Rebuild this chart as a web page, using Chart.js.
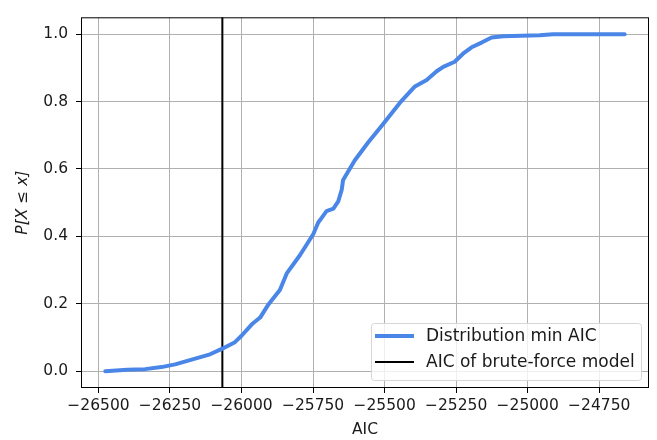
<!DOCTYPE html>
<html>
<head>
<meta charset="utf-8">
<script src="https://cdn.jsdelivr.net/npm/chart.js@4/dist/chart.umd.min.js"></script>
<style>
  html, body { margin: 0; padding: 0; background: #fff; }
  #wrap { width: 657px; height: 440px; }
</style>
</head>
<body>
<div id="wrap"><canvas id="chart" width="657" height="440"></canvas></div>
<script>
"use strict";

// ECDF of min AIC
const aicValues = [
  -26476, -26400, -26337, -26280, -26232, -26162, -26110, -26069, -26023, -26000,
  -25964, -25935, -25906, -25866, -25842, -25796, -25749, -25732, -25720, -25703,
  -25679, -25662, -25650, -25645, -25604, -25557, -25510, -25447, -25394, -25353,
  -25318, -25295, -25255, -25226, -25196, -25161, -25126, -25086, -24958, -24911,
  -24661,
];
const cdfValues = [
  0.0, 0.004, 0.006, 0.012, 0.02, 0.037, 0.05, 0.066, 0.086, 0.105,
  0.139, 0.159, 0.198, 0.241, 0.29, 0.344, 0.407, 0.441, 0.455, 0.475,
  0.482, 0.504, 0.538, 0.567, 0.626, 0.679, 0.728, 0.796, 0.845, 0.864,
  0.89, 0.903, 0.918, 0.942, 0.961, 0.975, 0.99, 0.994, 0.997, 1.0,
  1.0,
];
const bruteForceAic = -26067;
const seriesLabels = ["Distribution min AIC", "AIC of brute-force model"];
const xTicks = [-26500, -26250, -26000, -25750, -25500, -25250, -25000, -24750];
const yTicks = [0.0, 0.2, 0.4, 0.6, 0.8, 1.0];

const X_MIN = -26561, X_MAX = -24576;
const Y_MIN = -0.05, Y_MAX = 1.05;
const BLUE = "#4a86e8";
const FONT = "'DejaVu Sans', sans-serif";
const TEXT = "#1a1a1a";
const AXIS_SIZE = 15.5;

const ecdf = aicValues.map((x, i) => ({ x, y: cdfValues[i] }));

// Frame around the plot and the legend box in the lower right.
const framePlugin = {
  id: "frame",
  afterDraw(chart) {
    const { ctx, chartArea: a } = chart;
    ctx.save();
    ctx.strokeStyle = "#000";
    ctx.lineWidth = 1;
    ctx.strokeRect(a.left + 0.5, a.top + 0.5, a.right - a.left - 1, a.bottom - a.top - 1);

    const bx = 371, by = 323, bw = 270, bh = 57, r = 3;
    ctx.beginPath();
    ctx.roundRect(bx + 0.5, by + 0.5, bw, bh, r);
    ctx.fillStyle = "rgba(255,255,255,0.8)";
    ctx.fill();
    ctx.strokeStyle = "#d6d6d6";
    ctx.stroke();

    const rows = [
      { label: seriesLabels[0], color: BLUE, width: 4, y: 336 },
      { label: seriesLabels[1], color: "#000", width: 2, y: 362 },
    ];
    ctx.font = "17px " + FONT;
    ctx.textBaseline = "middle";
    ctx.fillStyle = TEXT;
    for (const row of rows) {
      ctx.beginPath();
      ctx.moveTo(375, row.y);
      ctx.lineTo(414, row.y);
      ctx.strokeStyle = row.color;
      ctx.lineWidth = row.width;
      ctx.stroke();
      ctx.fillText(row.label, 426, row.y + 1);
    }
    ctx.restore();
  },
};

const minus = (v) => String(v).replace("-", "\u2212");

new Chart(document.getElementById("chart"), {
  type: "scatter",
  data: {
    datasets: [
      {
        label: seriesLabels[0],
        data: ecdf,
        showLine: true,
        borderColor: BLUE,
        borderWidth: 4,
        pointRadius: 0,
        tension: 0,
        borderCapStyle: "round",
        borderJoinStyle: "round",
      },
      {
        label: seriesLabels[1],
        data: [{ x: bruteForceAic, y: Y_MIN }, { x: bruteForceAic, y: Y_MAX }],
        showLine: true,
        borderColor: "#000",
        borderWidth: 2,
        pointRadius: 0,
      },
    ],
  },
  options: {
    responsive: false,
    animation: false,
    layout: { padding: { top: 11, right: 8, left: 0, bottom: 0 } },
    plugins: { legend: { display: false }, tooltip: { enabled: false } },
    scales: {
      x: {
        type: "linear",
        min: X_MIN,
        max: X_MAX,
        afterFit(s) { s.height = 52; },
        afterBuildTicks(s) { s.ticks = xTicks.map((v) => ({ value: v })); },
        grid: { color: "#b0b0b0", lineWidth: 1, tickLength: 5, tickColor: "#000" },
        border: { display: false },
        ticks: {
          color: TEXT,
          font: { family: FONT, size: AXIS_SIZE },
          padding: 4,
          maxRotation: 0,
          autoSkip: false,
          callback: (v) => minus(v),
        },
        title: {
          display: true,
          text: "AIC",
          color: TEXT,
          font: { family: FONT, size: AXIS_SIZE },
          padding: { top: 0, bottom: 1 },
        },
      },
      y: {
        type: "linear",
        min: Y_MIN,
        max: Y_MAX,
        afterFit(s) { s.width = 81; },
        afterBuildTicks(s) { s.ticks = yTicks.map((v) => ({ value: v })); },
        grid: { color: "#b0b0b0", lineWidth: 1, tickLength: 5, tickColor: "#000" },
        border: { display: false },
        ticks: {
          color: TEXT,
          font: { family: FONT, size: AXIS_SIZE },
          padding: 8,
          autoSkip: false,
          callback: (v) => v.toFixed(1),
        },
        title: {
          display: true,
          text: "P[X \u2264 x]",
          color: TEXT,
          font: { family: FONT, size: AXIS_SIZE, style: "italic" },
          padding: { top: 14, bottom: 0 },
        },
      },
    },
  },
  plugins: [framePlugin],
});
</script>
</body>
</html>
